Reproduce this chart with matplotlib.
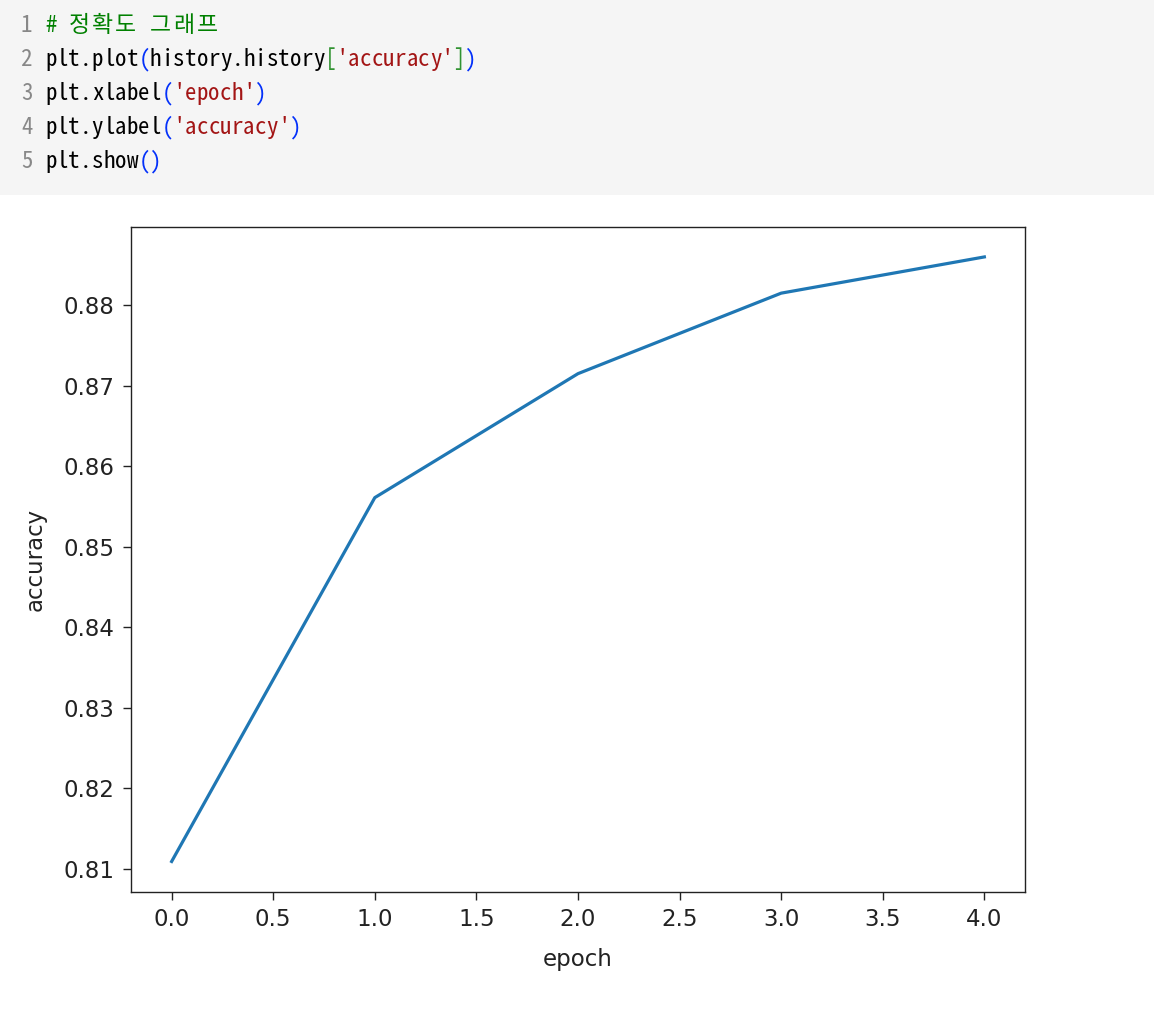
import matplotlib
matplotlib.use('Agg')
import matplotlib.pyplot as plt
from matplotlib.patches import Rectangle

# training history
epochs = [0, 1, 2, 3, 4]
accuracy = [0.8109, 0.8561, 0.8715, 0.8815, 0.8860]

xticks = [0.0, 0.5, 1.0, 1.5, 2.0, 2.5, 3.0, 3.5, 4.0]
yticks = [0.81, 0.82, 0.83, 0.84, 0.85, 0.86, 0.87, 0.88]

# code cell shown above the plot, as (text, colour) tokens per line
GREEN = '#008000'
RED = '#a31515'
BLUE = '#0431fa'
BRACKET = '#319331'
BLACK = '#000000'
code_lines = [
    [('# 정확도 그래프', GREEN)],
    [('plt.plot', BLACK), ('(', BLUE), ('history.history', BLACK), ('[', BRACKET),
     ("'accuracy'", RED), (']', BRACKET), (')', BLUE)],
    [('plt.xlabel', BLACK), ('(', BLUE), ("'epoch'", RED), (')', BLUE)],
    [('plt.ylabel', BLACK), ('(', BLUE), ("'accuracy'", RED), (')', BLUE)],
    [('plt.show', BLACK), ('()', BLUE)],
]

W, H = 1154, 1010
fig = plt.figure(figsize=(W / 100, H / 100), dpi=100)
fig.patch.set_facecolor('white')

# gray code cell background
fig.patches.append(Rectangle((0, 1 - 195 / H), 1, 195 / H, transform=fig.transFigure,
                             facecolor='#f5f5f5', edgecolor='none', zorder=0))

mono = ['Noto Sans Mono CJK KR', 'DejaVu Sans Mono', 'Noto Sans CJK KR']
cw = 11.66  # column width in px
x0 = 45
for i, tokens in enumerate(code_lines):
    base = 32 + 34.1 * i
    fig.text(21 / W, 1 - base / H, str(i + 1), color='#888888', fontsize=16.5,
             family=mono, va='baseline', ha='left')
    col = 0
    for text, color in tokens:
        for ch in text:
            fig.text((x0 + col * cw) / W, 1 - base / H, ch, color=color, fontsize=16.5,
                     family=mono, va='baseline', ha='left')
            col += 2 if ord(ch) > 0x1100 else 1

# the matplotlib figure itself
left, right, top, bottom = 131, 1025, 226.7, 891.7
ax = fig.add_axes([left / W, 1 - bottom / H, (right - left) / W, (bottom - top) / H])
ax.plot(epochs, accuracy, color='#1f77b4', linewidth=2.3)
ax.set_xticks(xticks)
ax.set_yticks(yticks)
ax.set_xticklabels([f'{t:.1f}' for t in xticks])
ax.set_yticklabels([f'{t:.2f}' for t in yticks])
ax.tick_params(labelsize=16.5, length=5.8, width=1.0, pad=6, colors='#222222')
for s in ax.spines.values():
    s.set_linewidth(1.0)
    s.set_color('#222222')
ax.set_xlabel('epoch', fontsize=16.5, color='#222222', labelpad=12)
ax.set_ylabel('accuracy', fontsize=16.5, color='#222222', labelpad=12)

fig.savefig('out.png', dpi=100)
